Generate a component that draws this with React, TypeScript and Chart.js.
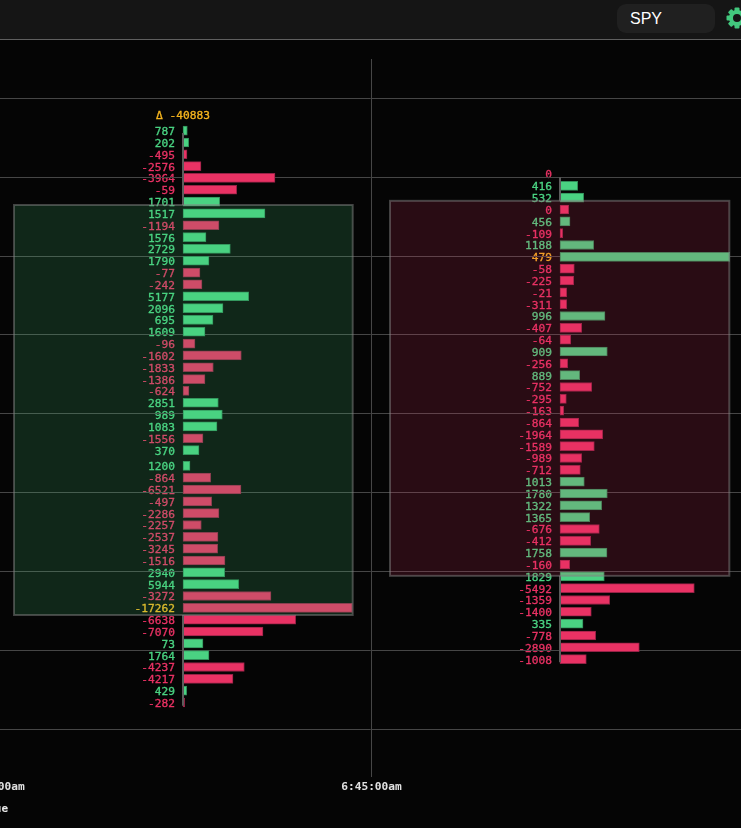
import React, { useEffect, useRef } from "react";
import { Chart, registerables } from "chart.js";

Chart.register(...registerables);

const leftDeltas = [787, 202, -495, -2576, -3964, -59, 1701, 1517, -1194, 1576, 2729, 1790, -77, -242, 5177, 2096, 695, 1609, -96, -1602, -1833, -1386, -624, 2851, 989, 1083, -1556, 370, 1200, -864, -6521, -497, -2286, -2257, -2537, -3245, -1516, 2940, 5944, -3272, -17262, -6638, -7070, 73, 1764, -4237, -4217, 429, -282];
const leftVolumes = [430, 570, 400, 1800, 9200, 5370, 3670, 8200, 3600, 2300, 4730, 2600, 1700, 1900, 6570, 4000, 3000, 2200, 1200, 5830, 3030, 2200, 600, 3530, 3930, 3400, 2000, 1600, 700, 2770, 5800, 2870, 3600, 1830, 3500, 3470, 4200, 4170, 5570, 8800, 16930, 11270, 8000, 2000, 2600, 6130, 5000, 370, 170];
const leftPrices = [429.59, 429.44, 429.29, 429.14, 428.99, 428.84, 428.69, 428.54, 428.39, 428.24, 428.09, 427.94, 427.79, 427.64, 427.49, 427.34, 427.19, 427.04, 426.89, 426.74, 426.59, 426.44, 426.29, 426.14, 425.99, 425.84, 425.69, 425.54, 425.34, 425.19, 425.04, 424.89, 424.74, 424.59, 424.44, 424.29, 424.14, 423.99, 423.84, 423.69, 423.54, 423.39, 423.24, 423.09, 422.94, 422.79, 422.64, 422.49, 422.34];

const rightDeltas = [0, 416, 532, 0, 456, -109, 1188, 479, -58, -225, -21, -311, 996, -407, -64, 909, -256, 889, -752, -295, -163, -864, -1964, -1589, -989, -712, 1013, 1780, 1322, 1365, -676, -412, 1758, -160, 1829, -5492, -1359, -1400, 335, -778, -2890, -1008];
const rightVolumes = [0, 1770, 2370, 870, 1000, 270, 3370, 16970, 1430, 1370, 670, 670, 4500, 2170, 1070, 4730, 770, 1970, 3170, 630, 370, 1870, 4270, 3430, 2170, 2030, 2430, 4730, 4170, 2970, 3930, 3070, 4700, 970, 4430, 13430, 4970, 3130, 2300, 3570, 7930, 2630];
const rightPrices = [429.04, 428.89, 428.74, 428.59, 428.44, 428.29, 428.14, 427.99, 427.84, 427.69, 427.54, 427.39, 427.24, 427.09, 426.94, 426.79, 426.64, 426.49, 426.34, 426.19, 426.04, 425.89, 425.74, 425.59, 425.44, 425.29, 425.14, 424.99, 424.84, 424.69, 424.54, 424.39, 424.24, 424.09, 423.94, 423.79, 423.64, 423.49, 423.34, 423.19, 423.04, 422.89];

const candleTimes = [450, 1350];
const totalDelta = "Δ -40883";
const pocLeft = -17262;
const pocRight = 479;
const leftValueArea = { x: [46.6, 855.1], y: [428.647, 423.449] };
const rightValueArea = { x: [944.2, 1754.2], y: [428.7, 423.946] };
const leftStems = [[429.56, 428.647], [423.449, 422.3]];
const rightStems = [[429.0, 428.7], [423.946, 422.85]];
const timeTicks = [0, 900];
const timeLabels = ["6:30:00am", "6:45:00am"];
const priceTicks = [422, 423, 424, 425, 426, 427, 428, 429, 430];

const SEC_PER_VOL = 900 / 377 / 100;
const GREEN = "rgb(74,210,130)";
const GREEN_EDGE = "rgb(48,140,88)";
const RED = "rgb(233,50,100)";
const RED_EDGE = "rgb(150,34,70)";
const GOLD = "rgb(245,180,30)";
const FONT = "11.2px 'DejaVu Sans Mono', monospace";

function barData(prices: number[], vols: number[], base: number) {
  return prices.map((p, i) => ({ x: [base, base + vols[i] * SEC_PER_VOL], y: p }));
}

function barDataset(prices: number[], vols: number[], deltas: number[], base: number) {
  return {
    type: "bar",
    indexAxis: "y",
    order: 2,
    data: barData(prices, vols, base),
    grouped: false,
    barThickness: 9,
    borderWidth: 1,
    borderSkipped: false,
    backgroundColor: deltas.map((d) => (d > 0 ? GREEN : RED)),
    borderColor: deltas.map((d) => (d > 0 ? GREEN_EDGE : RED_EDGE)),
  };
}

function stemDataset(time: number, seg: number[]) {
  return {
    type: "line",
    order: 1,
    data: seg.map((p) => ({ x: time, y: p })),
    borderColor: "rgb(92,92,92)",
    borderWidth: 2,
    pointRadius: 0,
    fill: false,
  };
}

function heavyText(ctx: any, text: string, x: number, y: number, color: string) {
  ctx.fillStyle = color;
  ctx.strokeStyle = color;
  ctx.lineWidth = 0.35;
  ctx.fillText(text, x, y);
  ctx.strokeText(text, x, y);
}

const footprintPlugin = {
  id: "footprint",
  beforeDraw(chart: any) {
    const { ctx, scales } = chart;
    const draw = (prices: number[], deltas: number[], base: number, poc: number) => {
      const xp = scales.x.getPixelForValue(base) - 8;
      ctx.save();
      ctx.font = FONT;
      ctx.textAlign = "right";
      ctx.textBaseline = "middle";
      prices.forEach((p, i) => {
        const d = deltas[i];
        heavyText(ctx, String(d), xp, scales.y.getPixelForValue(p) + 1.5, d === poc ? GOLD : d > 0 ? GREEN : RED);
      });
      ctx.restore();
    };
    draw(leftPrices, leftDeltas, candleTimes[0], pocLeft);
    draw(rightPrices, rightDeltas, candleTimes[1], pocRight);
    ctx.save();
    ctx.font = FONT;
    ctx.textAlign = "center";
    ctx.textBaseline = "middle";
    heavyText(ctx, totalDelta, scales.x.getPixelForValue(candleTimes[0]), scales.y.getPixelForValue(429.78), GOLD);
    ctx.restore();
  },
  afterDatasetsDraw(chart: any) {
    const { ctx, scales } = chart;
    const box = (a: { x: number[]; y: number[] }, fill: string) => {
      const x0 = scales.x.getPixelForValue(a.x[0]);
      const x1 = scales.x.getPixelForValue(a.x[1]);
      const y0 = scales.y.getPixelForValue(a.y[0]);
      const y1 = scales.y.getPixelForValue(a.y[1]);
      ctx.save();
      ctx.fillStyle = fill;
      ctx.fillRect(x0, y0, x1 - x0, y1 - y0);
      ctx.strokeStyle = "rgba(130,130,130,0.5)";
      ctx.lineWidth = 2;
      ctx.strokeRect(x0, y0, x1 - x0, y1 - y0);
      ctx.restore();
    };
    box(leftValueArea, "rgba(74,210,130,0.163)");
    box(rightValueArea, "rgba(233,50,100,0.16)");
  },
};

export default function App() {
  const ref = useRef<HTMLCanvasElement>(null);
  useEffect(() => {
    if (!ref.current) return;
    const chart = new Chart(ref.current, {
      type: "bar",
      data: {
        datasets: [
          barDataset(leftPrices, leftVolumes, leftDeltas, candleTimes[0]),
          barDataset(rightPrices, rightVolumes, rightDeltas, candleTimes[1]),
          ...leftStems.map((s) => stemDataset(candleTimes[0], s)),
          ...rightStems.map((s) => stemDataset(candleTimes[1], s)),
        ],
      } as any,
      plugins: [footprintPlugin],
      options: {
        responsive: false,
        animation: false,
        layout: { padding: { top: 19, left: 0, right: 0, bottom: 0 } },
        plugins: { legend: { display: false }, tooltip: { enabled: false }, title: { display: false } },
        scales: {
          x: {
            type: "linear",
            position: "bottom",
            offset: false,
            min: -225.6,
            max: 2020.8,
            afterBuildTicks: (s: any) => {
              s.ticks = timeTicks.map((value) => ({ value }));
            },
            afterFit: (s: any) => {
              s.height = 59;
            },
            grid: { color: "rgb(70,70,70)", tickColor: "rgb(70,70,70)", tickLength: 8, offset: false },
            border: { display: false },
            ticks: {
              autoSkip: false,
              maxRotation: 0,
              padding: 3,
              color: "rgb(225,225,225)",
              font: { family: "'DejaVu Sans Mono', monospace", size: 11.2, weight: "bold" },
              callback: (v: any) => timeLabels[timeTicks.indexOf(v)] ?? "",
            },
          },
          y: {
            type: "linear",
            position: "right",
            offset: false,
            min: 421.497,
            max: 430.498,
            afterBuildTicks: (s: any) => {
              s.ticks = priceTicks.map((value) => ({ value }));
            },
            grid: { color: "rgb(70,70,70)", drawTicks: false, offset: false },
            border: { display: false },
            ticks: { display: false },
            afterFit: (s: any) => {
              s.width = 0;
            },
          },
        },
      } as any,
    });
    return () => chart.destroy();
  }, []);

  return (
    <div style={{ position: "fixed", inset: 0, overflow: "hidden", background: "rgb(5,5,5)" }}>
      <div style={{ position: "absolute", left: 0, top: 0, width: "100%", height: 39, background: "rgb(21,21,21)", borderBottom: "1px solid rgb(95,95,95)" }} />
      <div style={{ position: "absolute", left: 617, top: 4, width: 98, height: 29, borderRadius: 9, background: "rgb(32,32,32)" }} />
      <div style={{ position: "absolute", left: 630, top: 9, color: "#fff", font: "16px 'Liberation Sans', Arial, sans-serif", lineHeight: "19px" }}>SPY</div>
      <svg style={{ position: "absolute", left: 726, top: 7 }} width="22" height="22" viewBox="0 0 22 22">
        <g fill="rgb(66,200,125)">
          {[0, 45, 90, 135, 180, 225, 270, 315].map((a) => (
            <rect key={a} x="8.5" y="0.5" width="5" height="5" rx="1" transform={`rotate(${a} 11 11)`} />
          ))}
        </g>
        <circle cx="11" cy="11" r="6" fill="none" stroke="rgb(66,200,125)" strokeWidth="4" />
      </svg>
      <canvas ref={ref} width={941} height={788} style={{ position: "absolute", left: -100, top: 40, width: 941, height: 788, display: "block" }} />
      <div style={{ position: "absolute", left: -25, top: 802, color: "rgb(235,235,235)", font: "bold 11px 'DejaVu Sans Mono', monospace", lineHeight: "14px" }}>Value</div>
    </div>
  );
}
